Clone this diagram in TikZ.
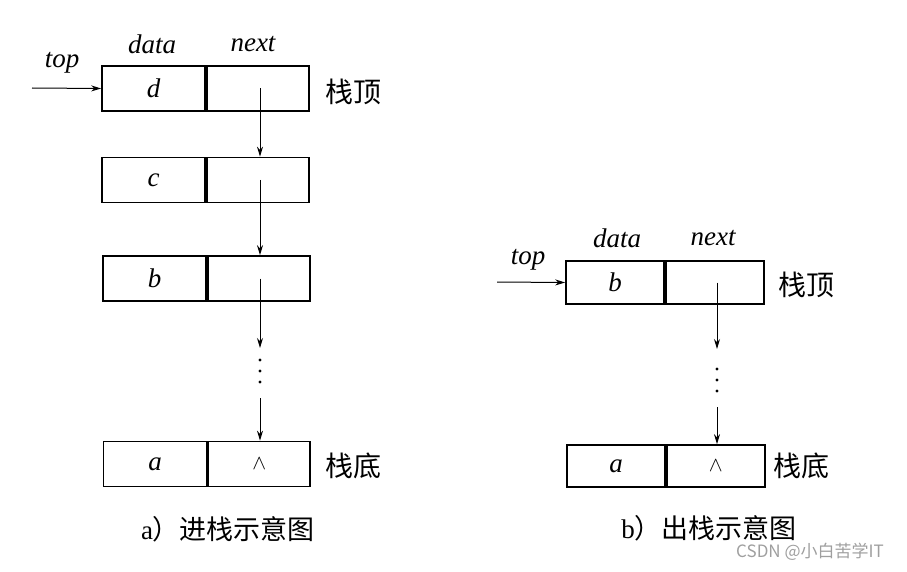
\documentclass[tikz,border=0pt]{standalone}
\usepackage{fontspec}
\setmainfont{Liberation Serif}
\newfontfamily\cjk{Noto Sans CJK SC}
\usetikzlibrary{arrows.meta}
\tikzset{
  cell/.style={draw, line width=1.7pt, minimum height=45pt, inner sep=0pt, font=\fontsize{27}{27}\selectfont\itshape},
  dcell/.style={cell, minimum width=103pt},
  ncell/.style={cell, minimum width=102pt, font=\fontsize{22}{22}\selectfont},
  lbl/.style={font=\fontsize{27}{27}\selectfont\itshape, inner sep=0pt},
  zh/.style={font=\fontsize{28}{28}\selectfont\cjk, inner sep=0pt},
  captext/.style={font=\fontsize{27}{27}\selectfont, inner sep=0pt},
  arr/.style={line width=1pt, -{Stealth[length=10pt,width=6pt]}},
  dot/.style={circle, fill, inner sep=0pt, minimum size=3.2pt}
}
\begin{document}
\begin{tikzpicture}[x=1pt,y=-1pt]
\useasboundingbox (0,0) rectangle (907,572);
% ---------- left: push ----------
\node[dcell] (ld1) at (153.5,88.5) {d};
\node[ncell, anchor=west] (ld2) at (ld1.east) {};
\node[dcell] (lc1) at (153.5,180) {c};
\node[ncell, anchor=west] (lc2) at (lc1.east) {};
\node[dcell] (lb1) at (154.5,278.5) {b};
\node[ncell, anchor=west] (lb2) at (lb1.east) {};
\node[dcell] (la1) at (155,464) {a};
\node[ncell, anchor=west] (la2) at (la1.east) {$\wedge$};

\node[lbl] (ldata) at (152,44) {data};
\node[lbl] (lnext) at (253,44) {next};
\node[lbl] (ltop) at (62,63) {top};
\node[zh] (ltopzh) at (353,92) {栈顶};
\node[zh] (lbotzh) at (353,466) {栈底};
\node[captext] (lcap) at (228,529) {a{\cjk ）进栈示意图}};

\coordinate (lx) at (260,0);
\coordinate (lstart) at (32,88);
\draw[arr] (lstart) -- (ld1.west);
\draw[arr] (lx |- ld2.center) -- (lx |- lc2.north);
\draw[arr] (lx |- lc2.center) -- (lx |- lb2.north);
\coordinate (lm1) at (260,348);
\coordinate (lm2) at (260,398);
\draw[arr] (lx |- lb2.center) -- (lm1);
\node[dot] (ldot1) at (260,360) {};
\node[dot] (ldot2) at (260,371) {};
\node[dot] (ldot3) at (260,382) {};
\draw[arr] (lm2) -- (lx |- la2.north);

% ---------- right: pop ----------
\node[dcell, minimum width=98pt, minimum height=43pt] (rb1) at (615,282.5) {b};
\node[ncell, minimum width=98pt, minimum height=43pt, anchor=west] (rb2) at (rb1.east) {};
\node[dcell, minimum width=98pt, minimum height=42pt] (ra1) at (616,466) {a};
\node[ncell, minimum width=98pt, minimum height=42pt, anchor=west] (ra2) at (ra1.east) {$\wedge$};

\node[lbl] (rdata) at (617,238) {data};
\node[lbl] (rnext) at (713,238) {next};
\node[lbl] (rtop) at (528,260) {top};
\node[zh] (rtopzh) at (806,285) {栈顶};
\node[zh] (rbotzh) at (801,466) {栈底};
\node[captext] (rcap) at (709,528) {b{\cjk ）出栈示意图}};

\coordinate (rx) at (717,0);
\coordinate (rstart) at (497,282);
\draw[arr] (rstart) -- (rb1.west);
\coordinate (rm1) at (717,349);
\coordinate (rm2) at (717,407);
\draw[arr] (rx |- rb2.center) -- (rm1);
\node[dot] (rdot1) at (717,369) {};
\node[dot] (rdot2) at (717,380) {};
\node[dot] (rdot3) at (717,391) {};
\draw[arr] (rm2) -- (rx |- ra2.north);

% watermark
\node[font=\fontsize{17}{17}\selectfont\cjk, text=gray!75, inner sep=0pt] (wm) at (810,552) {CSDN @小白苦学IT};
\end{tikzpicture}
\end{document}
